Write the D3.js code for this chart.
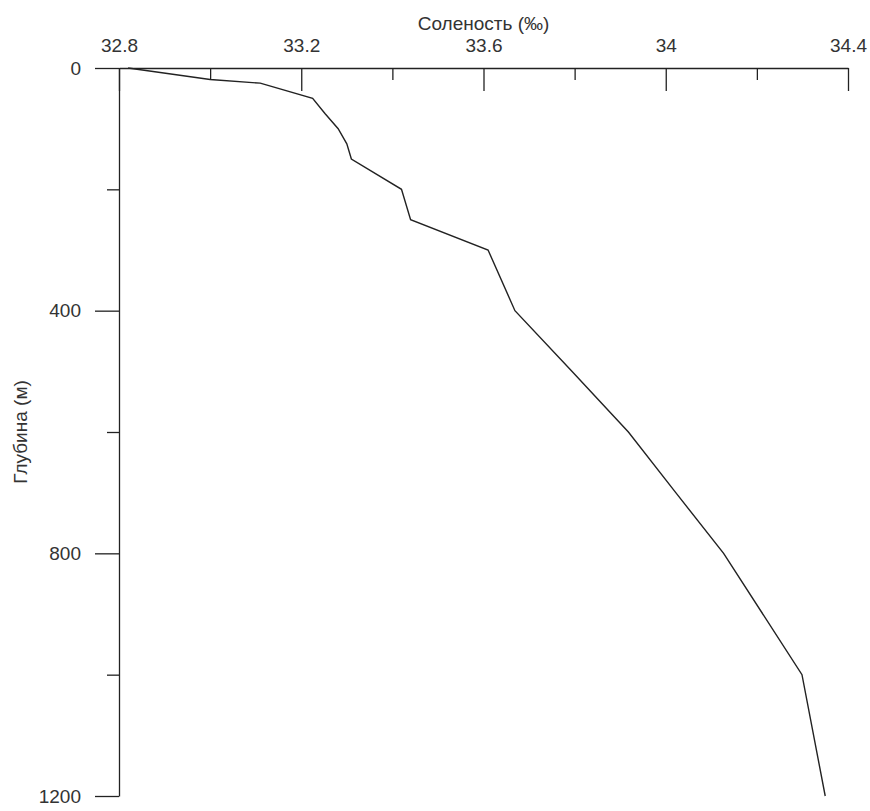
<!DOCTYPE html>
<html>
<head>
<meta charset="utf-8">
<script src="https://cdn.jsdelivr.net/npm/d3@7"></script>
<style>
  body { margin: 0; background: #fff; }
  svg text { font-family: "Liberation Sans", Arial, sans-serif; fill: #333; }
</style>
</head>
<body>
<svg id="chart"></svg>
<script>
// salinity profile
var depths   = [0, 19, 25, 50, 75, 100, 125, 150, 200, 250, 300, 400, 500, 600, 700, 800, 1000, 1200];
var salinity = [32.82, 33.0, 33.11, 33.225, 33.252, 33.281, 33.3, 33.31, 33.42, 33.44, 33.61, 33.669, 33.794, 33.918, 34.022, 34.127, 34.299, 34.35];

var xMajor = [32.8, 33.2, 33.6, 34, 34.4];
var xMinor = [33.0, 33.4, 33.8, 34.2];
var yMajor = [0, 400, 800, 1200];
var yMinor = [200, 600, 1000];

var xTitle = "Соленость (‰)";
var yTitle = "Глубина (м)";

var margin = { top: 68, right: 22, bottom: 15, left: 119 },
  width = 870 - margin.left - margin.right,
  height = 811 - margin.top - margin.bottom;

var svg = d3.select("#chart")
  .attr("width", 870)
  .attr("height", 811);

var g = svg.append("g")
  .attr("transform", "translate(" + margin.left + "," + margin.top + ")");

var x = d3.scaleLinear().domain([32.8, 34.4]).range([0, width]);
var y = d3.scaleLinear().domain([0, 1200]).range([0, height]);

// top axis, ticks pointing down into the plot
g.append("g")
  .attr("class", "axis")
  .call(d3.axisTop(x).tickValues(xMajor).tickSizeInner(-23).tickSizeOuter(0)
    .tickPadding(16).tickFormat(function (d) { return +d.toFixed(1); }));

g.append("g")
  .attr("class", "axis minor")
  .call(d3.axisTop(x).tickValues(xMinor).tickSizeInner(-12).tickSizeOuter(0)
    .tickFormat(""));

// left axis
g.append("g")
  .attr("class", "axis")
  .call(d3.axisLeft(y).tickValues(yMajor).tickSizeInner(24).tickSizeOuter(0)
    .tickPadding(14).tickFormat(d3.format("d")));

g.append("g")
  .attr("class", "axis minor")
  .call(d3.axisLeft(y).tickValues(yMinor).tickSizeInner(12).tickSizeOuter(0)
    .tickFormat(""));

g.selectAll(".minor .domain").remove();
g.selectAll(".axis text").style("font-size", "19px");
g.selectAll(".axis line, .axis path").attr("stroke", "#222").attr("stroke-width", 1.3);

// profile line
var line = d3.line()
  .x(function (d, i) { return x(salinity[i]); })
  .y(function (d) { return y(d); });

g.append("path")
  .datum(depths)
  .attr("d", line)
  .attr("fill", "none")
  .attr("stroke", "#222")
  .attr("stroke-width", 1.4);

// axis titles
svg.append("text")
  .attr("x", margin.left + width / 2)
  .attr("y", 30)
  .attr("text-anchor", "middle")
  .style("font-size", "19px")
  .text(xTitle);

svg.append("text")
  .attr("transform", "translate(27," + (margin.top + height / 2) + ") rotate(-90)")
  .attr("text-anchor", "middle")
  .style("font-size", "19px")
  .text(yTitle);
</script>
</body>
</html>
